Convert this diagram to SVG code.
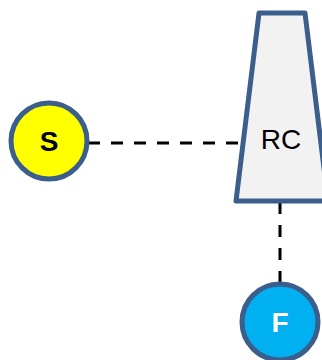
<svg xmlns="http://www.w3.org/2000/svg" width="322" height="360" viewBox="0 0 322 360">
<style>
.node{stroke:#3B5E8C;stroke-width:5;stroke-linejoin:round}
.conn{stroke:#000;stroke-width:3;stroke-dasharray:12 11;fill:none}
text{font-family:"Liberation Sans",Arial,sans-serif;font-size:28px;text-anchor:middle;dominant-baseline:central}
</style>
<rect width="322" height="360" fill="#fff"/>
<g id="connectors">
<line class="conn" x1="88" y1="143" x2="244" y2="143"/>
<line class="conn" x1="280" y1="202" x2="280" y2="283"/>
</g>
<g id="RC">
<polygon class="node" fill="#F2F2F2" points="259,13 305,13 328,201 236,201"/>
<text x="281" y="139">RC</text>
</g>
<g id="S">
<circle class="node" cx="49" cy="141" r="38" fill="#FFFF00"/>
<text x="49" y="141" font-weight="bold">S</text>
</g>
<g id="F">
<circle class="node" cx="280" cy="322" r="38" fill="#00B0F0"/>
<text x="280" y="322" font-weight="bold" fill="#fff">F</text>
</g>
</svg>
